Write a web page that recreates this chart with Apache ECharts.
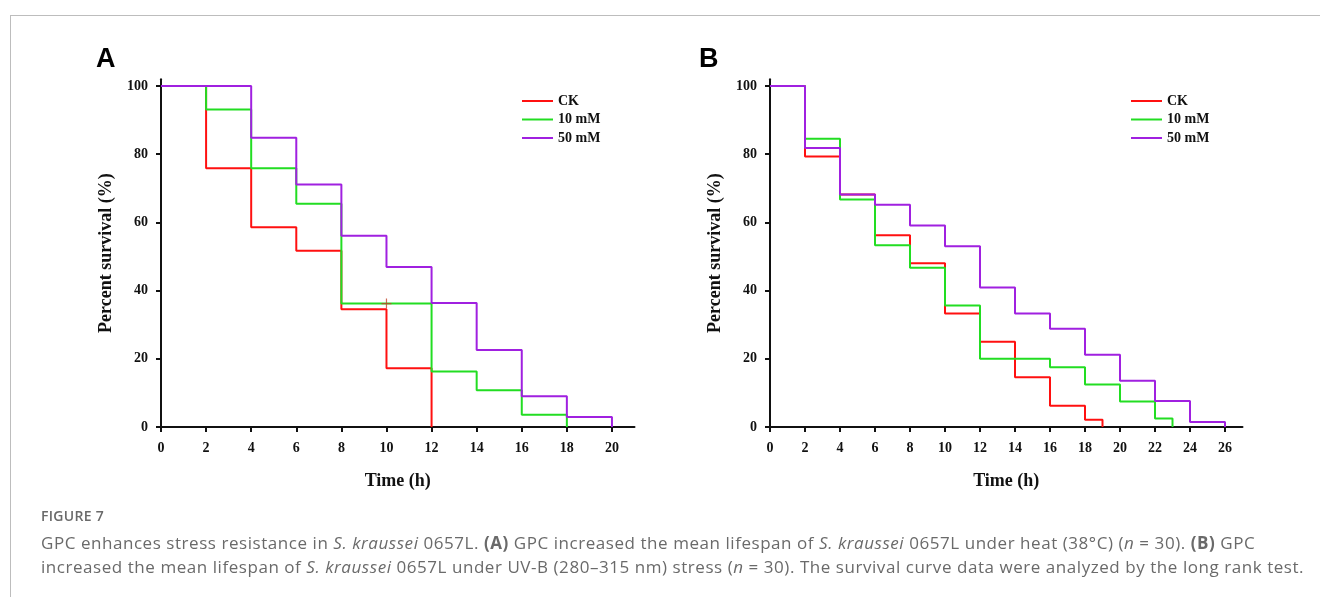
<!DOCTYPE html>
<html>
<head>
<meta charset="utf-8">
<script src="https://cdn.jsdelivr.net/npm/echarts@6/dist/echarts.min.js"></script>
<style>
  html, body { margin: 0; padding: 0; background: #fff; width: 1320px; height: 597px; overflow: hidden; }
  #frame { position: absolute; left: 10px; top: 15px; width: 1330px; height: 600px; border-left: 1px solid #bdbdbd; border-top: 1px solid #bdbdbd; }
  #chart { position: absolute; left: 0; top: 0; width: 1320px; height: 597px; }
  #caption { position: absolute; left: 41px; top: 505px; width: 1279px; font-family: "Open Sans", sans-serif; color: #6a6a6a; }
  #caption .fig { font-size: 14px; font-weight: 600; letter-spacing: 0.3px; line-height: 22px; color: #6a6a6a; }
  #caption .txt { font-size: 17px; line-height: 24px; letter-spacing: 0.55px; white-space: nowrap; }
  #caption .first { margin-top: 4px; }
</style>
</head>
<body>
<div id="frame"></div>
<div id="chart"></div>
<div id="caption">
  <div class="fig">FIGURE 7</div>
  <div class="txt first">GPC enhances stress resistance in <i>S. kraussei</i> 0657L. <b>(A)</b> GPC increased the mean lifespan of <i>S. kraussei</i> 0657L under heat (38°C) (<i>n</i> = 30). <b>(B)</b> GPC</div>
  <div class="txt">increased the mean lifespan of <i>S. kraussei</i> 0657L under UV-B (280–315 nm) stress (<i>n</i> = 30). The survival curve data were analyzed by the long rank test.</div>
</div>
<script>
// ---- Data ----
const seriesNames = ['CK', '10 mM', '50 mM'];

// Panel A: heat stress
const timeA_CK   = [0, 2, 4, 6, 8, 10, 12];
const survA_CK   = [100, 75.9, 58.6, 51.7, 34.5, 17.2, 0];
const timeA_10   = [0, 2, 4, 6, 8, 12, 14, 16, 18];
const survA_10   = [100, 93.1, 75.9, 65.5, 36.2, 16.3, 10.8, 3.6, 0];
const timeA_50   = [0, 4, 6, 8, 10, 12, 14, 16, 18, 20];
const survA_50   = [100, 84.8, 71.1, 56.1, 46.9, 36.4, 22.6, 9.0, 2.9, 0];
const censorA_t  = [10];
const censorA_s  = [36.2];

// Panel B: UV-B stress
const timeB_CK   = [0, 2, 4, 6, 8, 10, 12, 14, 16, 18, 19];
const survB_CK   = [100, 79.3, 68.2, 56.2, 48.0, 33.3, 25.0, 14.6, 6.2, 2.1, 0];
const timeB_10   = [0, 2, 4, 6, 8, 10, 12, 16, 18, 20, 22, 23];
const survB_10   = [100, 84.5, 66.7, 53.3, 46.7, 35.6, 20.0, 17.5, 12.5, 7.5, 2.5, 0];
const timeB_50   = [0, 2, 4, 6, 8, 10, 12, 14, 16, 18, 20, 22, 24, 26];
const survB_50   = [100, 81.8, 68.2, 65.2, 59.1, 53.0, 40.9, 33.3, 28.8, 21.2, 13.6, 7.6, 1.5, 0];

// Tick labels
const xTicksA = [0, 2, 4, 6, 8, 10, 12, 14, 16, 18, 20];
const xTicksB = [0, 2, 4, 6, 8, 10, 12, 14, 16, 18, 20, 22, 24, 26];
const yTicks  = [0, 20, 40, 60, 80, 100];

// ---- Styling ----
const colors = { 'CK': '#ff1010', '10 mM': '#22dd22', '50 mM': '#a020e0' };
const serif = '"Liberation Serif", "Times New Roman", serif';

function zip(t, s) { return t.map((v, i) => [v, s[i]]); }

function xAxis(gridIndex, max, ticks) {
  return {
    type: 'value', gridIndex, min: 0, max,
    axisLine: { show: true, onZero: false, lineStyle: { color: '#111', width: 2 } },
    axisTick: { show: true, length: 5, lineStyle: { color: '#111', width: 2 }, customValues: ticks },
    axisLabel: { customValues: ticks, margin: 14, fontFamily: serif, fontWeight: 'bold', fontSize: 14, color: '#111' },
    splitLine: { show: false },
    name: 'Time (h)', nameLocation: 'middle', nameGap: 45,
    nameTextStyle: { fontFamily: serif, fontWeight: 'bold', fontSize: 18, color: '#111' }
  };
}
function yAxis(gridIndex) {
  return {
    type: 'value', gridIndex, min: 0, max: 102,
    axisLine: { show: true, onZero: false, lineStyle: { color: '#111', width: 2 } },
    axisTick: { show: true, length: 5, lineStyle: { color: '#111', width: 2 }, customValues: yTicks },
    axisLabel: { customValues: yTicks, margin: 13, fontFamily: serif, fontWeight: 'bold', fontSize: 14, color: '#111' },
    splitLine: { show: false },
    name: 'Percent survival (%)', nameLocation: 'middle', nameGap: 46, nameRotate: 90,
    nameTextStyle: { fontFamily: serif, fontWeight: 'bold', fontSize: 18, color: '#111' }
  };
}
function stepSeries(name, idx, t, s) {
  return {
    name, type: 'line', step: 'end', xAxisIndex: idx, yAxisIndex: idx,
    data: zip(t, s), symbol: 'none', silent: true, animation: false,
    lineStyle: { color: colors[name], width: 2 }, itemStyle: { color: colors[name] }
  };
}
function legend(left) {
  return {
    left, top: 89, orient: 'vertical', icon: 'rect', itemWidth: 31, itemHeight: 2, itemGap: 4.5,
    data: seriesNames, selectedMode: false,
    textStyle: { fontFamily: serif, fontWeight: 'bold', fontSize: 14, color: '#111' }
  };
}

const chart = echarts.init(document.getElementById('chart'), null, { renderer: 'canvas' });
chart.setOption({
  animation: false,
  grid: [
    { left: 161, top: 79.2, width: 473.5, height: 347.8 },
    { left: 770, top: 79.2, width: 472.5, height: 347.8 }
  ],
  xAxis: [xAxis(0, 21, xTicksA), xAxis(1, 27, xTicksB)],
  yAxis: [yAxis(0), yAxis(1)],
  legend: [legend(517), legend(1126)],
  graphic: [
    { type: 'text', left: 96, top: 46, style: { text: 'A', font: 'bold 27px "Liberation Sans", Arial, sans-serif', fill: '#000' } },
    { type: 'text', left: 699, top: 46, style: { text: 'B', font: 'bold 27px "Liberation Sans", Arial, sans-serif', fill: '#000' } }
  ],
  series: [
    stepSeries('CK', 0, timeA_CK, survA_CK),
    stepSeries('10 mM', 0, timeA_10, survA_10),
    stepSeries('50 mM', 0, timeA_50, survA_50),
    {
      name: 'censor', type: 'scatter', xAxisIndex: 0, yAxisIndex: 0, silent: true,
      data: zip(censorA_t, censorA_s),
      symbol: 'path://M4.4,0H5.6V4.4H10V5.6H5.6V10H4.4V5.6H0V4.4H4.4Z', symbolSize: 10,
      itemStyle: { color: '#c0452a' }, z: 5
    },
    stepSeries('CK', 1, timeB_CK, survB_CK),
    stepSeries('10 mM', 1, timeB_10, survB_10),
    stepSeries('50 mM', 1, timeB_50, survB_50)
  ]
});
</script>
</body>
</html>
